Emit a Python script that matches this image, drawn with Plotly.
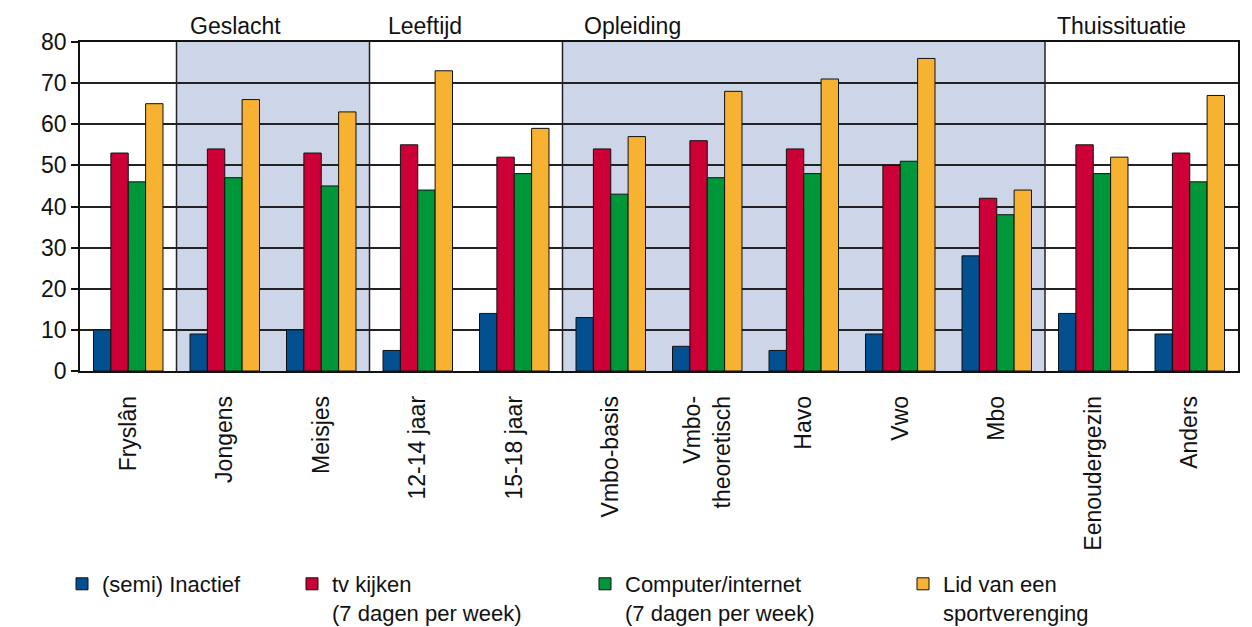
import plotly.graph_objects as go

# Categories along the x axis (groups: total, gender, age, education, home situation)
categories = ["Fryslân", "Jongens", "Meisjes", "12-14 jaar", "15-18 jaar",
              "Vmbo-basis", "Vmbo-<br>theoretisch", "Havo", "Vwo", "Mbo",
              "Eenoudergezin", "Anders"]

# Percentages per series
inactief = [10, 9, 10, 5, 14, 13, 6, 5, 9, 28, 14, 9]
tv_kijken = [53, 54, 53, 55, 52, 54, 56, 54, 50, 42, 55, 53]
computer = [46, 47, 45, 44, 48, 43, 47, 48, 51, 38, 48, 46]
sportvereniging = [65, 66, 63, 73, 59, 57, 68, 71, 76, 44, 52, 67]

series_names = ["(semi) Inactief",
                "tv kijken<br>(7 dagen per week)",
                "Computer/internet<br>(7 dagen per week)",
                "Lid van een<br>sportverenging"]
series_values = [inactief, tv_kijken, computer, sportvereniging]
series_colors = ["#02508F", "#CC0036", "#00963A", "#F8B232"]

# Group headings and the category index range each one covers
group_labels = ["Geslacht", "Leeftijd", "Opleiding", "Thuissituatie"]
group_spans = [(0.5, 2.5), (2.5, 4.5), (4.5, 9.5), (9.5, 11.5)]
shaded_groups = [True, False, True, False]

FONT = "Liberation Sans, Arial, sans-serif"
W, H = 1252, 627

legend_ids = ["legend", "legend2", "legend3", "legend4"]
legend_text_x = [102, 332, 625, 943]

fig = go.Figure()
for name, vals, col, lid in zip(series_names, series_values, series_colors, legend_ids):
    fig.add_trace(go.Bar(
        x=list(range(len(categories))), y=vals, name=name,
        marker=dict(color=col, line=dict(color="#111111", width=1)),
        legend=lid,
    ))

shapes = []
for (x0, x1), shaded in zip(group_spans, shaded_groups):
    if shaded:
        shapes.append(dict(type="rect", xref="x", yref="y domain", x0=x0, x1=x1,
                           y0=0, y1=1, fillcolor="#CDD5E8", line=dict(width=0),
                           layer="below"))
for x0, _ in group_spans:
    shapes.append(dict(type="line", xref="x", yref="y domain", x0=x0, x1=x0,
                       y0=0, y1=1, line=dict(color="#222222", width=1.5),
                       layer="below"))

# Headings sit just right of each group's left edge
heading_offsets = [0.12, 0.17, 0.2, 0.1]
annotations = []
for label, (x0, _), off in zip(group_labels, group_spans, heading_offsets):
    annotations.append(dict(text=label, xref="x", yref="paper", x=x0 + off, y=1,
                            xanchor="left", yanchor="bottom", yshift=1,
                            showarrow=False, font=dict(size=23, color="#111111")))

layout_legends = {}
for lid, tx in zip(legend_ids, legend_text_x):
    layout_legends[lid] = dict(
        xref="container", yref="container",
        x=(tx - 40) / W, y=1 - 563 / H, xanchor="left", yanchor="top",
        orientation="h", valign="top", itemwidth=30,
        font=dict(size=22, color="#111111", family=FONT),
        bgcolor="rgba(0,0,0,0)", borderwidth=0, itemclick=False,
    )

fig.update_layout(
    width=W, height=H,
    margin=dict(l=80, r=12, t=42, b=256),
    paper_bgcolor="white", plot_bgcolor="white",
    font=dict(family=FONT, size=22, color="#111111"),
    barmode="group", bargap=0.28, bargroupgap=0,
    shapes=shapes, annotations=annotations,
    showlegend=True,
    **layout_legends,
)

fig.update_xaxes(
    tickmode="array", tickvals=list(range(len(categories))), ticktext=categories,
    range=[-0.5, len(categories) - 0.5], tickangle=-90,
    showline=True, linecolor="#111111", linewidth=1.5, mirror=True,
    showgrid=False, ticks="", ticklabelstandoff=14,
    tickfont=dict(size=23, color="#111111"),
)
fig.update_yaxes(
    range=[0, 80], dtick=10, showline=True, linecolor="#111111", linewidth=1.5,
    mirror=True, showgrid=True, gridcolor="#222222", gridwidth=1.5,
    ticks="outside", ticklen=7, tickcolor="#111111", tickwidth=1.5,
    tickfont=dict(size=23, color="#111111"), zeroline=False,
)

fig.write_html("out.html")
